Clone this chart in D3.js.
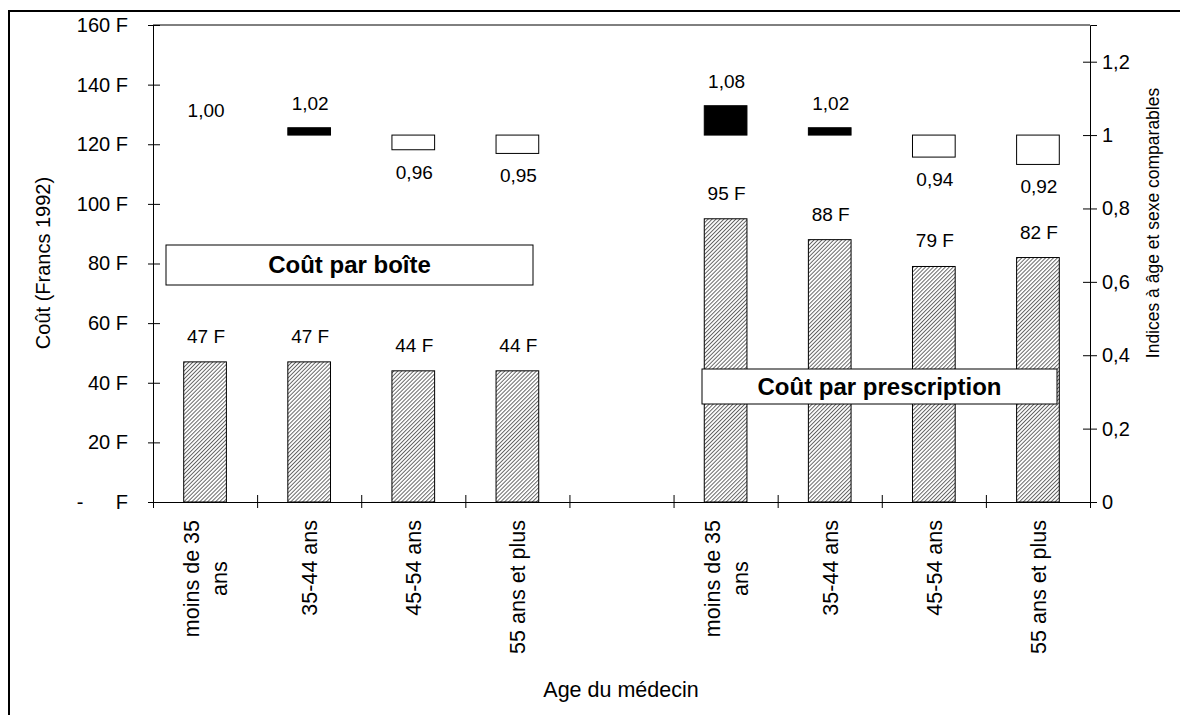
<!DOCTYPE html>
<html>
<head>
<meta charset="utf-8">
<script src="https://cdn.jsdelivr.net/npm/d3@7"></script>
<style>
  html, body { margin: 0; padding: 0; background: #fff; }
  svg { display: block; font-family: "Liberation Sans", Arial, sans-serif; }
</style>
</head>
<body>
<svg id="chart" width="1180" height="715"></svg>
<script>
// Age groups of the prescribing doctor (a "\n" marks a line break in the axis label)
const ageGroups = ["moins de 35\nans", "35-44 ans", "45-54 ans", "55 ans et plus"];

// Average cost per box, Francs 1992
const coutBoite = [47, 47, 44, 44];
// Age- and sex-standardised index, cost per box
const indiceBoite = [1.00, 1.02, 0.96, 0.95];

// Average cost per prescription, Francs 1992
const coutPrescription = [95, 88, 79, 82];
// Age- and sex-standardised index, cost per prescription
const indicePrescription = [1.08, 1.02, 0.94, 0.92];

// Axis ticks
const leftTicks = [0, 20, 40, 60, 80, 100, 120, 140, 160];
const rightTicks = [0, 0.2, 0.4, 0.6, 0.8, 1, 1.2];

const panelTitles = ["Coût par boîte", "Coût par prescription"];

const svg = d3.select("#chart");
const plot = { left: 153, right: 1090, top: 25, bottom: 502 };

// Nine slots: four groups, an empty gap, four groups
const slotKeys = [
  ...ageGroups.map((_, i) => "boite-" + i),
  "gap",
  ...ageGroups.map((_, i) => "presc-" + i)
];
const x = d3.scaleBand().domain(slotKeys).range([plot.left, plot.right]).padding(0);
const slotEdge = d3.scaleLinear().domain([0, slotKeys.length]).range([plot.left, plot.right]);
const barW = x.bandwidth() * 0.41;

const yL = d3.scaleLinear().domain([0, 160]).range([plot.bottom, plot.top]);
const yR = d3.scaleLinear().domain([0, 1.3]).range([plot.bottom, plot.top]);

// Fine hatch fill for cost bars
const defs = svg.append("defs");
const pat = defs.append("pattern")
  .attr("id", "hatch")
  .attr("patternUnits", "userSpaceOnUse")
  .attr("width", 2.8).attr("height", 2.8)
  .attr("patternTransform", "rotate(45)");
pat.append("rect").attr("width", 2.8).attr("height", 2.8).attr("fill", "#fff");
pat.append("line").attr("x1", 0.5).attr("y1", 0).attr("x2", 0.5).attr("y2", 2.8)
  .attr("stroke", "#555").attr("stroke-width", 0.9);

// Outer frame
svg.append("rect")
  .attr("x", 9).attr("y", 11).attr("width", 1200).attr("height", 800)
  .attr("fill", "none").attr("stroke", "#000").attr("stroke-width", 2);

// Plot area top border
svg.append("line")
  .attr("x1", plot.left).attr("x2", plot.right)
  .attr("y1", plot.top).attr("y2", plot.top)
  .attr("stroke", "#000").attr("stroke-width", 1);

// Build series rows
const costRows = [
  ...coutBoite.map((v, i) => ({ key: "boite-" + i, v })),
  ...coutPrescription.map((v, i) => ({ key: "presc-" + i, v }))
];
const indexRows = [
  ...indiceBoite.map((v, i) => ({ key: "boite-" + i, v })),
  ...indicePrescription.map((v, i) => ({ key: "presc-" + i, v }))
];
const cx = k => x(k) + x.bandwidth() / 2;
const fmtIdx = d3.format(".2f");
const frNum = s => s.replace(".", ",");

// Cost bars
svg.append("g").selectAll("rect").data(costRows).join("rect")
  .attr("x", d => cx(d.key) - barW / 2)
  .attr("width", barW)
  .attr("y", d => yL(d.v))
  .attr("height", d => yL(0) - yL(d.v))
  .attr("fill", "url(#hatch)")
  .attr("stroke", "#000").attr("stroke-width", 1);

// Cost labels
svg.append("g").selectAll("text").data(costRows).join("text")
  .attr("x", d => cx(d.key) + 1)
  .attr("y", d => yL(d.v) - 19)
  .attr("text-anchor", "middle")
  .attr("font-size", 19)
  .text(d => d.v + " F");

// Index bars floating from 1 to the index value
svg.append("g").selectAll("rect").data(indexRows.filter(d => d.v !== 1)).join("rect")
  .attr("x", d => cx(d.key) - barW / 2)
  .attr("width", barW)
  .attr("y", d => yR(Math.max(d.v, 1)))
  .attr("height", d => Math.abs(yR(d.v) - yR(1)))
  .attr("fill", d => d.v > 1 ? "#000" : "#fff")
  .attr("stroke", "#000").attr("stroke-width", 1);

// Index labels
svg.append("g").selectAll("text").data(indexRows).join("text")
  .attr("x", d => cx(d.key) + 1)
  .attr("y", d => d.v >= 1 ? yR(d.v) - 18 : yR(d.v) + 29)
  .attr("text-anchor", "middle")
  .attr("font-size", 19)
  .text(d => frNum(fmtIdx(d.v)));

// Left axis
const gL = svg.append("g").attr("transform", `translate(${plot.left},0)`)
  .call(d3.axisLeft(yL).tickValues(leftTicks).tickSize(5).tickPadding(20)
    .tickFormat(d => d === 0 ? "F" : d + " F"));
gL.attr("font-family", null);
gL.select(".domain").attr("stroke", "#000");
gL.selectAll(".tick line").attr("x1", 7).attr("stroke", "#000");
gL.selectAll(".tick text").attr("font-size", 20).attr("fill", "#000");
gL.selectAll(".tick").filter(d => d === 0).append("text")
  .attr("x", -73).attr("dy", "0.32em").attr("text-anchor", "middle")
  .attr("font-size", 20).attr("fill", "#000").text("-");

// Right axis
const gR = svg.append("g").attr("transform", `translate(${plot.right},0)`)
  .call(d3.axisRight(yR).tickValues(rightTicks).tickSize(7).tickPadding(5)
    .tickFormat(d => frNum(String(+d.toFixed(1)))));
gR.attr("font-family", null);
gR.select(".domain").attr("stroke", "#000");
gR.selectAll(".tick line").attr("x1", -7).attr("stroke", "#000");
gR.selectAll(".tick text").attr("font-size", 20).attr("fill", "#000");

// Bottom axis: ticks on slot boundaries
const gB = svg.append("g").attr("transform", `translate(0,${plot.bottom})`)
  .call(d3.axisBottom(slotEdge).tickValues(d3.range(slotKeys.length + 1)).tickSize(6).tickFormat(""));
gB.select(".domain").attr("stroke", "#000");
gB.selectAll(".tick line").attr("y1", -7).attr("stroke", "#000");

// Category labels, rotated
const catRows = [
  ...ageGroups.map((g, i) => ({ key: "boite-" + i, lines: g.split("\n") })),
  ...ageGroups.map((g, i) => ({ key: "presc-" + i, lines: g.split("\n") }))
];
const catTop = 520;
const lineGap = 28;
catRows.forEach(row => {
  const n = row.lines.length;
  const g = svg.append("g");
  const texts = row.lines.map((line, j) => {
    const off = (j - (n - 1) / 2) * lineGap + 8;
    return g.append("text")
      .attr("font-size", 21.5)
      .attr("text-anchor", "middle")
      .attr("data-off", off)
      .text(line);
  });
  const longest = d3.max(texts, t => t.node().getComputedTextLength());
  texts.forEach(t => {
    const off = +t.attr("data-off");
    t.attr("transform", `translate(${cx(row.key) + off},${catTop + longest / 2}) rotate(-90)`);
  });
});

// Panel title boxes
const boxes = [
  { title: panelTitles[0], x0: 166, x1: 533, y0: 245, y1: 285 },
  { title: panelTitles[1], x0: 702, x1: 1057, y0: 369, y1: 404 }
];
boxes.forEach(b => {
  svg.append("rect").attr("x", b.x0).attr("y", b.y0)
    .attr("width", b.x1 - b.x0).attr("height", b.y1 - b.y0)
    .attr("fill", "#fff").attr("stroke", "#000").attr("stroke-width", 1);
  svg.append("text").attr("x", (b.x0 + b.x1) / 2).attr("y", (b.y0 + b.y1) / 2)
    .attr("dy", "0.35em").attr("text-anchor", "middle")
    .attr("font-size", 24).attr("font-weight", "bold").text(b.title);
});

// Axis titles
svg.append("text")
  .attr("transform", "translate(50,263) rotate(-90)")
  .attr("text-anchor", "middle").attr("font-size", 20)
  .text("Coût (Francs 1992)");
svg.append("text")
  .attr("transform", "translate(1159,223) rotate(-90)")
  .attr("text-anchor", "middle").attr("font-size", 17.5)
  .text("Indices à âge et sexe comparables");
svg.append("text")
  .attr("x", 621).attr("y", 697)
  .attr("text-anchor", "middle").attr("font-size", 21.5)
  .text("Age du médecin");
</script>
</body>
</html>
